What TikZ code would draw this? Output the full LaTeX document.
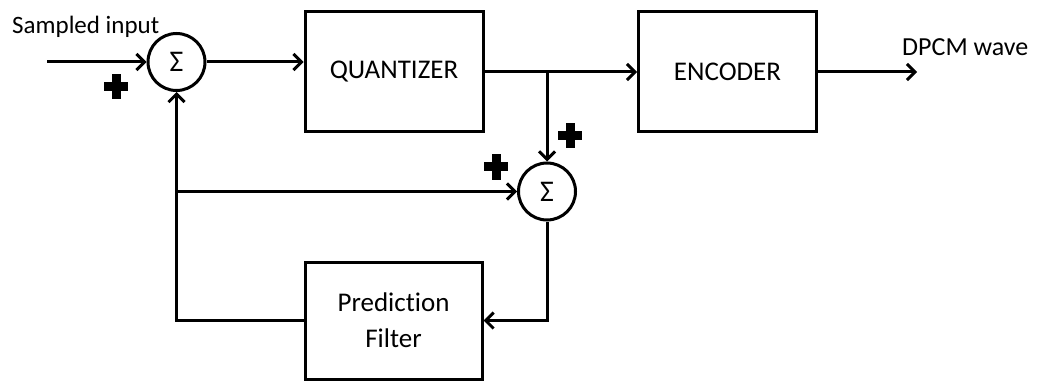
\documentclass[tikz,border=0pt]{standalone}
\usepackage{fontspec}
\setmainfont[Ligatures={NoCommon}]{Carlito}
\usetikzlibrary{arrows.meta}
\begin{document}
\begin{tikzpicture}[x=1pt,y=-1pt,
  lw/.style={line width=3pt},
  block/.style={draw,lw,rectangle,minimum width=178pt,minimum height=120pt,inner sep=0pt,
    font=\fontsize{27}{36}\selectfont,align=center},
  sumnode/.style={draw,lw,circle,minimum size=57pt,inner sep=0pt,font=\fontsize{30}{30}\selectfont},
  conn/.style={lw,-{Straight Barb[length=8pt,width=16pt]}},
  lbl/.style={inner sep=0pt,anchor=base west,font=\fontsize{26}{30}\selectfont},
  plussign/.pic={\fill (-12,-4.5) rectangle (12,4.5); \fill (-4.5,-12.5) rectangle (4.5,12.5);}
]
\fill[white] (0,0) rectangle (1040,382);
\useasboundingbox (0,0) rectangle (1040,382);

% blocks
\node[sumnode] (s1) at (176.5,62) {Σ};
\node[block] (q) at (394,72) {QUANTIZER};
\node[block] (e) at (727.5,72) {ENCODER};
\node[sumnode] (s2) at (547,191.5) {Σ};
\node[block,minimum width=177pt,minimum height=117pt] (pf) at (393.5,320.5) {Prediction\\Filter};

% labels
\node[lbl,font=\fontsize{25}{30}\selectfont] (lin) at (12,34) {Sampled input};
\node[lbl] (lout) at (902,56) {DPCM wave};

% helper coordinates
\coordinate (in) at (47,62);
\coordinate (out) at (917,72);
\coordinate (j) at (547,72);
\coordinate (b) at (176.5,191.5);

% connectors
\draw[conn] (in) -- (s1.west);
\draw[conn] (s1.east) -- (s1.east -| q.west);
\draw[conn] (q.east) -- (e.west);
\draw[conn] (e.east) -- (out);
\draw[conn] (j) -- (s2.north);
\draw[conn] (s2.south) |- (pf.east);
\draw[conn] (pf.west) -| (s1.south);
\draw[conn] (b) -- (s2.west);

% plus signs
\pic at (116,87) {plussign};
\pic at (570,136) {plussign};
\pic at (496,167) {plussign};
\end{tikzpicture}
\end{document}
